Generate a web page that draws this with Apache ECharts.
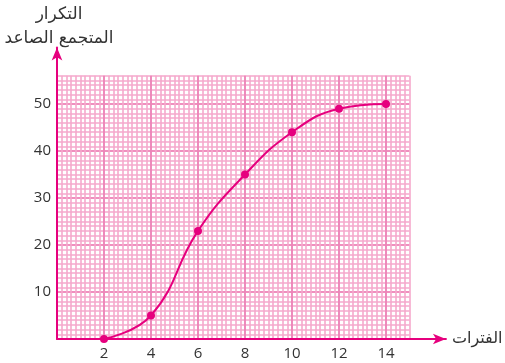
<!DOCTYPE html>
<html><head><meta charset="utf-8">
<script src="https://cdn.jsdelivr.net/npm/echarts@6/dist/echarts.min.js"></script>
<style>html,body{margin:0;padding:0;background:#fff}#c{width:505px;height:363px}</style>
</head><body><div id="c"></div>
<script>
const xValues = [2, 4, 6, 8, 10, 12, 14];
const cumFreq = [0, 5, 23, 35, 44, 49, 50];
const xTickLabels = [2, 4, 6, 8, 10, 12, 14];
const yTickLabels = [10, 20, 30, 40, 50];
const xAxisName = 'الفترات';
const yAxisName = 'التكرار\nالمتجمع الصاعد';

const MAG = '#e6007e';
const points = xValues.map((x, i) => [x, cumFreq[i]]);
const chart = echarts.init(document.getElementById('c'), null, {renderer: 'canvas'});
const L = 57, B = 24;
const ux = 23.5, uy = 4.7;
const paperX = 15, paperY = 56;
const axX = 16.55, axY = 62;
const font = '"Open Sans", "Noto Sans", sans-serif';
const arFont = '"DejaVu Sans", sans-serif';
chart.setOption({
  animation: false,
  graphic: [{
    type: 'text', x: 59, y: 3,
    style: {text: yAxisName, textAlign: 'center', textVerticalAlign: 'top',
      fill: '#333', fontSize: 17, lineHeight: 24, fontFamily: arFont}
  }],
  grid: [
    {left: L, bottom: B, width: ux * axX, height: uy * axY, containLabel: false, outerBoundsMode: 'none'},
    {left: L, bottom: B, width: ux * paperX, height: uy * paperY, containLabel: false, outerBoundsMode: 'none'}
  ],
  xAxis: [
    {type: 'value', gridIndex: 0, min: 0, max: axX, interval: 2,
     axisLine: {show: true, lineStyle: {color: MAG, width: 2}, symbol: ['none', 'arrow'], symbolSize: [8, 13]},
     axisTick: {show: false}, splitLine: {show: false},
     axisLabel: {color: '#333', fontSize: 15, fontFamily: font, margin: 7,
       formatter: v => xTickLabels.includes(Math.round(v)) && Math.abs(v - Math.round(v)) < 1e-6 ? String(Math.round(v)) : ''},
     name: xAxisName, nameLocation: 'end', nameGap: 6,
     nameTextStyle: {color: '#333', fontSize: 16, fontFamily: arFont, verticalAlign: 'middle', padding: [0, 0, 2, 0]}, z: 5},
    {type: 'value', gridIndex: 1, min: 0, max: paperX, interval: 0.2,
     axisLine: {show: false}, axisTick: {show: false}, axisLabel: {show: false},
     splitLine: {show: true, lineStyle: {color: '#f5a9cc', width: 1.6}}},
    {type: 'value', gridIndex: 1, min: 0, max: paperX, interval: 2,
     axisLine: {show: false}, axisTick: {show: false}, axisLabel: {show: false},
     splitLine: {show: true, showMaxLine: false, lineStyle: {color: '#ec80b6', width: 1.6}}}
  ],
  yAxis: [
    {type: 'value', gridIndex: 0, min: 0, max: axY, interval: 10,
     axisLine: {show: true, lineStyle: {color: MAG, width: 2}, symbol: ['none', 'arrow'], symbolSize: [8, 13]},
     axisTick: {show: false}, splitLine: {show: false},
     axisLabel: {color: '#333', fontSize: 15, fontFamily: font, margin: 6,
       formatter: v => yTickLabels.includes(v) ? String(v) : ''}, z: 5},
    {type: 'value', gridIndex: 1, min: 0, max: paperY, interval: 1,
     axisLine: {show: false}, axisTick: {show: false}, axisLabel: {show: false},
     splitLine: {show: true, lineStyle: {color: '#f5a9cc', width: 1.6}}},
    {type: 'value', gridIndex: 1, min: 0, max: paperY, interval: 10,
     axisLine: {show: false}, axisTick: {show: false}, axisLabel: {show: false},
     splitLine: {show: true, showMaxLine: false, lineStyle: {color: '#ec80b6', width: 1.6}}}
  ],
  series: [{
    type: 'line', xAxisIndex: 0, yAxisIndex: 0, data: points, smooth: 0.45,
    symbol: 'circle', symbolSize: 8, showSymbol: true,
    lineStyle: {color: MAG, width: 2}, itemStyle: {color: MAG}, z: 10
  }]
});
</script></body></html>
